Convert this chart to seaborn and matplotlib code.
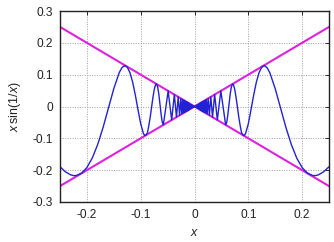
import numpy as np
import pandas as pd
import matplotlib
matplotlib.use("Agg")
import matplotlib.pyplot as plt
import seaborn as sns

# Positive half of x*sin(1/x) (the curve is even: f(-x) = f(x))
half_x = [0.25, 0.24, 0.23, 0.225, 0.22, 0.21, 0.20, 0.19, 0.18, 0.17, 0.16, 0.15, 0.14,
          0.135, 0.13, 0.125, 0.12, 0.115, 0.11, 0.105, 0.10, 0.095, 0.0925, 0.09, 0.0875,
          0.085, 0.0825, 0.08, 0.0775, 0.075, 0.0725, 0.0707, 0.0685, 0.0665, 0.065, 0.0635,
          0.062, 0.060, 0.0579,
          0.04897, 0.04244, 0.03745, 0.03351, 0.03032, 0.02768, 0.02546, 0.02358, 0.02195,
          0.02054, 0.01929, 0.01819, 0.01721, 0.01632, 0.01553, 0.01481, 0.01415, 0.01355,
          0.01299, 0.01248, 0.01201, 0.01157, 0.01117, 0.01079, 0.01044,
          0.0095, 0.0085, 0.0075, 0.0065, 0.0055, 0.0045, 0.0035, 0.0025, 0.0015, 0.0005, 0.0]
half_y = [-0.1892, -0.2052, -0.2149, -0.2170, -0.2170, -0.2097, -0.1918, -0.1619, -0.1196,
          -0.0663, -0.0053, 0.0561, 0.1061, 0.1218, 0.1283, 0.1237, 0.1065, 0.0766, 0.0361,
          -0.0104, -0.0544, -0.0847, -0.0909, -0.0894, -0.0827, -0.0610, -0.0355, -0.0053,
          0.0256, 0.0521, 0.0682, 0.0707, 0.0614, 0.0413, 0.0207, -0.0025, -0.0253, -0.0491,
          -0.0579,
          0.04897, -0.04244, 0.03745, -0.03351, 0.03032, -0.02768, 0.02546, -0.02358, 0.02195,
          -0.02054, 0.01929, -0.01819, 0.01721, -0.01632, 0.01553, -0.01481, 0.01415, -0.01355,
          0.01299, -0.01248, 0.01201, -0.01157, 0.01117, -0.01079, 0.01044,
          -0.0095, 0.0085, -0.0075, 0.0065, -0.0055, 0.0045, -0.0035, 0.0025, -0.0015, 0.0005, 0.0]

# envelope lines
env_x = [-0.25, 0.25]
env_up = [-0.25, 0.25]
env_down = [0.25, -0.25]

x_ticks = [-0.2, -0.1, 0.0, 0.1, 0.2]
x_labels = ["-0.2", "-0.1", "0", "0.1", "0.2"]
y_ticks = [-0.3, -0.2, -0.1, 0.0, 0.1, 0.2, 0.3]
y_labels = ["-0.3", "-0.2", "-0.1", "0", "0.1", "0.2", "0.3"]

# full curve by mirroring the positive half
curve_x = [-v for v in half_x] + half_x[::-1][1:]
curve_y = list(half_y) + half_y[::-1][1:]
curve = pd.DataFrame({"x": curve_x, "y": curve_y})

sns.set_style("white")
plt.rcParams["font.family"] = ["Liberation Sans", "DejaVu Sans"]
plt.rcParams["mathtext.fontset"] = "custom"
plt.rcParams["mathtext.rm"] = "Liberation Sans"
plt.rcParams["mathtext.it"] = "Liberation Sans:italic"

fig = plt.figure(figsize=(3.34, 2.42), dpi=100)
ax = fig.add_axes([60 / 334, 40 / 242, 269 / 334, 191 / 242])

sns.lineplot(x=env_x, y=env_up, ax=ax, color="#dd22dd", linewidth=1.5, sort=False, estimator=None)
sns.lineplot(x=env_x, y=env_down, ax=ax, color="#dd22dd", linewidth=1.5, sort=False, estimator=None)
sns.lineplot(data=curve, x="x", y="y", ax=ax, color="#2222d4", linewidth=1.0,
             sort=False, estimator=None)

ax.set_xlim(-0.25, 0.25)
ax.set_ylim(-0.3, 0.3)
ax.set_xticks(x_ticks)
ax.set_xticklabels(x_labels)
ax.set_yticks(y_ticks)
ax.set_yticklabels(y_labels)
ax.grid(True, color="#a0a0a0", linestyle=(0, (1, 1.5)), linewidth=0.7)
ax.tick_params(direction="in", length=3, width=0.7, top=True, right=True,
               labelsize=8.6, labelcolor="#222222", pad=5)
for s in ax.spines.values():
    s.set_color("#222222")
    s.set_linewidth(1.0)

ax.set_xlabel(r"$x$", fontsize=9, color="#222222", labelpad=4)
ax.set_ylabel(r"$x\,\mathrm{sin}(1/x)$", fontsize=9, color="#222222", labelpad=7)

fig.savefig("out.png", dpi=100)
